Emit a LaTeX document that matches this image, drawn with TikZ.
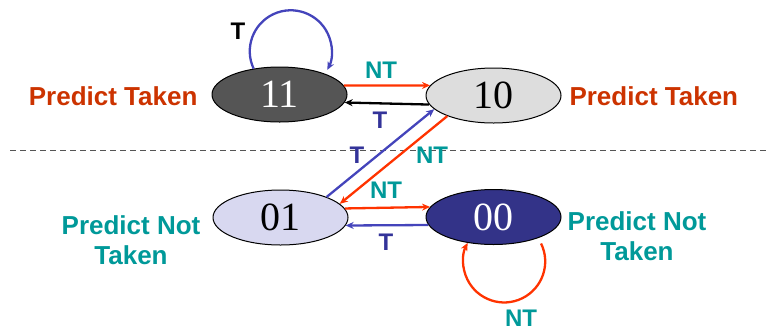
\documentclass[tikz,border=0pt]{standalone}
\usepackage{fontspec}
\setmainfont{Liberation Serif}
\newfontfamily\arialfont{Liberation Sans}
\usetikzlibrary{shapes.geometric,arrows.meta}
\definecolor{predred}{RGB}{204,51,0}
\definecolor{predteal}{RGB}{0,153,153}
\definecolor{edgered}{RGB}{255,51,0}
\definecolor{edgeblue}{RGB}{68,68,187}
\definecolor{labnavy}{RGB}{51,51,153}
\definecolor{darkst}{RGB}{85,85,85}
\definecolor{lightst}{RGB}{221,221,221}
\definecolor{lavst}{RGB}{216,216,240}
\definecolor{navyst}{RGB}{51,51,136}
\begin{document}
\begin{tikzpicture}[x=1pt,y=-1pt,line join=round,
  st/.style={ellipse,draw,line width=1pt,minimum width=135pt,minimum height=55pt,
    inner sep=0pt,font=\fontsize{40}{40}\selectfont},
  lab/.style={font=\arialfont\bfseries\fontsize{26}{30}\selectfont,align=center},
  elab/.style={font=\arialfont\bfseries\fontsize{24}{24}\selectfont},
  tr/.style={line width=2.3pt,-{Stealth[length=8pt,width=7pt]}}]
  \useasboundingbox (0,0) rectangle (770,330);
  % the four states
  \node[st,fill=darkst,text=white] (s11) at (279.5,94.5) {11};
  \node[st,fill=lightst] (s10) at (493.5,95.5) {10};
  \node[st,fill=lavst] (s01) at (280.5,217.5) {01};
  \node[st,fill=navyst,text=white] (s00) at (493.5,217) {00};
  % what each state predicts
  \node[lab,text=predred,anchor=east] (p11) at (201,96) {Predict Taken};
  \node[lab,text=predred,anchor=west] (p10) at (566,96) {Predict Taken};
  \node[lab,text=predteal] (p01) at (131,240) {Predict Not\\Taken};
  \node[lab,text=predteal] (p00) at (637,236) {Predict Not\\Taken};
  % divider
  \draw[darkst,line width=1pt,dash pattern=on 6pt off 4pt] (10,150) -- (770,150);
  % transitions
  \draw[tr,edgeblue] (s11.135) arc (205:-27:41pt);
  \draw[tr,edgered] (s11.8) -- (s10.171);
  \draw[tr,black] (s10.188) -- (s11.-7);
  \draw[tr,edgeblue] (s01.24) -- (s10.193);
  \draw[tr,edgered] (s10.204) -- (s01.13);
  \draw[tr,edgered] (s01.8) -- (s00.171);
  \draw[tr,edgeblue] (s00.187) -- (s01.-7);
  \draw[tr,edgered] (s00.-29) ++(7,4) arc (26:-207:41pt);
  % transition labels
  \node[elab] (t11) at (238,31) {T};
  \node[elab,text=predteal] (nt1) at (381,70) {NT};
  \node[elab,text=labnavy] (t1) at (380,120) {T};
  \node[elab,text=labnavy] (t2) at (357,155) {T};
  \node[elab,text=predteal] (nt2) at (432,155) {NT};
  \node[elab,text=predteal] (nt3) at (386,190) {NT};
  \node[elab,text=labnavy] (t3) at (386,242) {T};
  \node[elab,text=predteal] (nt00) at (521,318) {NT};
\end{tikzpicture}
\end{document}
